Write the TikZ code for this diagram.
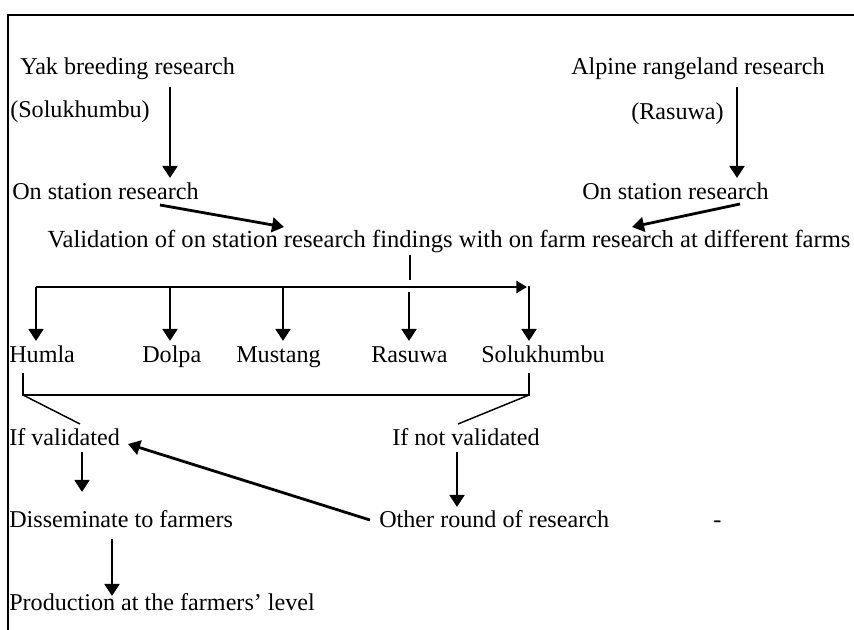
\documentclass[tikz,border=0pt]{standalone}
\usepackage{fontspec}
\setmainfont{Liberation Serif}
\usetikzlibrary{arrows.meta}
\begin{document}
\begin{tikzpicture}[x=0.75pt,y=-0.75pt,
  lbl/.style={anchor=west,inner sep=0pt,text height=0.7em,text depth=0.2em,
              font=\fontsize{18.1}{20}\selectfont,text=black},
  arr/.style={line width=2.1pt,-{Triangle[width=11pt,length=9pt]}},
  thinline/.style={line width=1.1pt},
  frameline/.style={line width=2pt}]
\useasboundingbox (0,0) rectangle (854,630);
\fill[white] (0,0) rectangle (854,630);
% frame
\coordinate (fTR) at (854,15);
\coordinate (fTL) at (8,15);
\coordinate (fBL) at (8,630);
\draw[frameline] (fTR) -- (fTL) -- (fBL);
% labels
\node[lbl] (yak) at (20,71) {Yak breeding research};
\node[lbl] (sol1) at (10,114) {(Solukhumbu)};
\node[lbl] (on1) at (12,196) {On station research};
\node[lbl] (alp) at (571,71) {Alpine rangeland research};
\node[lbl] (ras1) at (631,116) {(Rasuwa)};
\node[lbl] (on2) at (582,196) {On station research};
\node[lbl,anchor=center,font=\fontsize{18.45}{20}\selectfont] (val) at (449,244) {Validation of on station research findings with on farm research at different farms};
\node[lbl] (humla) at (9,359) {Humla};
\node[lbl] (dolpa) at (142,359) {Dolpa};
\node[lbl] (mustang) at (236,359) {Mustang};
\node[lbl] (rasuwa) at (371,359) {Rasuwa};
\node[lbl] (solu) at (481,359) {Solukhumbu};
\node[lbl] (ifv) at (9,442) {If validated};
\node[lbl] (ifnv) at (392,442) {If not validated};
\node[lbl] (diss) at (9,524) {Disseminate to farmers};
\node[lbl] (other) at (379,524) {Other round of research};
\node[lbl] (dash) at (713,524) {-};
\node[lbl] (prod) at (9,607) {Production at the farmers' level};
% coordinates
\coordinate (y1) at (170,87);  \coordinate (y2) at (170,178);
\coordinate (r1) at (737,87);  \coordinate (r2) at (737,178);
\coordinate (l1) at (160,205); \coordinate (l2) at (284,227);
\coordinate (q1) at (740,204); \coordinate (q2) at (632,227);
\coordinate (v1) at (410,255); \coordinate (v2) at (410,280);
\coordinate (b1) at (36,287);  \coordinate (bE) at (527,287);
\coordinate (b2) at (170,287); \coordinate (b3) at (283,287);
\coordinate (b4) at (409,292); \coordinate (b5) at (529,286);
\coordinate (t1) at (36,341);  \coordinate (t2) at (170,341);
\coordinate (t3) at (283,341); \coordinate (t4) at (409,341);
\coordinate (t5) at (529,341);
\coordinate (k1) at (23,373);  \coordinate (k2) at (23,395);
\coordinate (k3) at (529,395); \coordinate (k4) at (529,373);
\coordinate (d1) at (80,424);  \coordinate (d2) at (458,424);
\coordinate (i1) at (82,452);  \coordinate (i2) at (82,492);
\coordinate (n1) at (457,452); \coordinate (n2) at (457,507);
\coordinate (s1) at (112,539); \coordinate (s2) at (112,596);
\coordinate (o1) at (370,520); \coordinate (o2) at (128,444);
% connectors
\draw[arr] (y1) -- (y2);
\draw[arr] (r1) -- (r2);
\draw[arr] (l1) -- (l2);
\draw[arr] (q1) -- (q2);
\draw[thinline] (v1) -- (v2);
\draw[line width=2.1pt,-{Triangle[width=9pt,length=8pt]}] (b1) -- (bE);
\draw[arr] (b1) -- (t1);
\draw[arr] (b2) -- (t2);
\draw[arr] (b3) -- (t3);
\draw[arr] (b4) -- (t4);
\draw[arr] (b5) -- (t5);
\draw[thinline] (k1) -- (k2) -- (k3) -- (k4);
\draw[thinline] (k2) -- (d1);
\draw[thinline] (k3) -- (d2);
\draw[arr] (i1) -- (i2);
\draw[arr] (n1) -- (n2);
\draw[arr] (s1) -- (s2);
\draw[arr] (o1) -- (o2);
\end{tikzpicture}
\end{document}
